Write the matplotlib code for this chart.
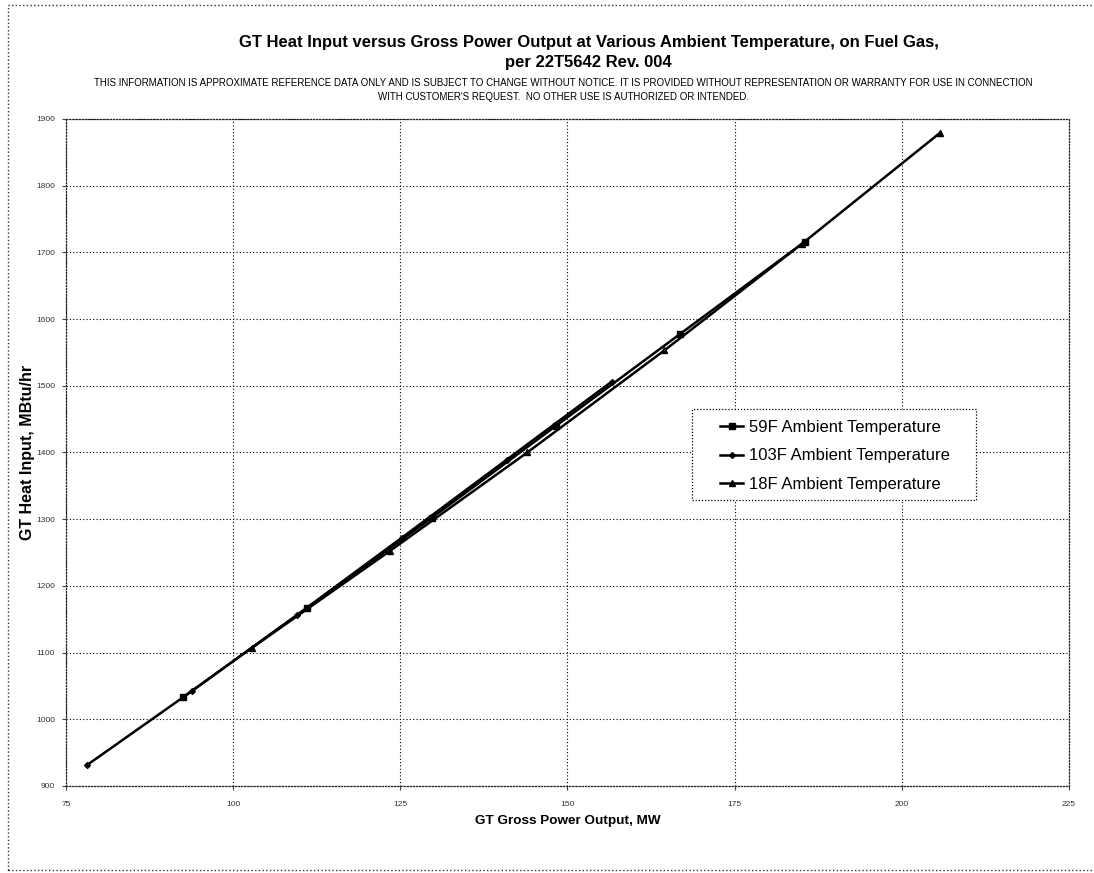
#!/usr/bin/env python3
"""GT heat input vs gross power output at three ambient temperatures."""

import matplotlib

matplotlib.use("Agg")
import matplotlib.pyplot as plt
from matplotlib.patches import Rectangle

plt.rcParams.update({
    "font.family": ["Liberation Sans", "DejaVu Sans"],
    "axes.linewidth": 0.9,
})

# Gross power output (MW) and heat input (MBtu/hr).
power_59f = [92.5, 111.1, 129.7, 148.3, 166.9, 185.5]
heat_59f = [1033, 1167, 1302, 1440, 1578, 1716]

power_103f = [78.1, 93.8, 109.5, 125.2, 140.9, 156.6]
heat_103f = [931, 1042, 1156, 1272, 1389, 1506]

power_18f = [102.8, 123.4, 144.0, 164.5, 185.1, 205.7]
heat_18f = [1107, 1252, 1400, 1553, 1713, 1879]

x_ticks = [75, 100, 125, 150, 175, 200, 225]
y_ticks = [900, 1000, 1100, 1200, 1300, 1400, 1500, 1600, 1700, 1800, 1900]

TITLE = ("GT Heat Input versus Gross Power Output at Various Ambient Temperature, on Fuel Gas,\n"
         "per 22T5642 Rev. 004")
DISCLAIMER = ("THIS INFORMATION IS APPROXIMATE REFERENCE DATA ONLY AND IS SUBJECT TO CHANGE WITHOUT NOTICE. "
              "IT IS PROVIDED WITHOUT REPRESENTATION OR WARRANTY FOR USE IN CONNECTION\n"
              "WITH CUSTOMER'S REQUEST.  NO OTHER USE IS AUTHORIZED OR INTENDED.")


def main() -> None:
    fig = plt.figure(figsize=(10.94, 8.73), dpi=100)
    ax = fig.add_axes([0.0603, 0.0997, 0.9167, 0.764])

    # dotted outer frame of the sheet
    fig.patches.append(Rectangle((0.007, 0.004), 1.0, 0.99, transform=fig.transFigure,
                                 fill=False, edgecolor="#333333", linestyle=":", linewidth=1.0))

    series = [
        ("59F Ambient Temperature", power_59f, heat_59f, "s", 5),
        ("103F Ambient Temperature", power_103f, heat_103f, "D", 3),
        ("18F Ambient Temperature", power_18f, heat_18f, "^", 5),
    ]
    for label, xs, ys, marker, ms in series:
        ax.plot(xs, ys, color="black", linewidth=1.8, marker=marker, markersize=ms,
                markerfacecolor="black", markeredgecolor="black", label=label)

    ax.set_xlim(75, 225)
    ax.set_ylim(900, 1900)
    ax.set_xticks(x_ticks)
    ax.set_yticks(y_ticks)
    ax.tick_params(labelsize=6, length=3, color="#444444", labelcolor="#333333")
    ax.tick_params(axis="x", pad=8)
    ax.tick_params(axis="y", pad=5)
    ax.grid(True, color="black", linestyle=(0, (1, 2)), linewidth=0.8)
    for spine in ax.spines.values():
        spine.set_linestyle((0, (1, 1.5)))
        spine.set_color("#222222")

    ax.set_xlabel("GT Gross Power Output, MW", fontsize=9.7, fontweight="bold", labelpad=5)
    ax.set_ylabel("GT Heat Input, MBtu/hr", fontsize=11.5, fontweight="bold")
    ax.yaxis.set_label_coords(-0.031, 0.5)

    fig.text(0.538, 0.94, TITLE, ha="center", va="center", fontsize=12,
             fontweight="bold", linespacing=1.4)
    fig.text(0.515, 0.897, DISCLAIMER, ha="center", va="center", fontsize=7.0,
             linespacing=1.5)

    leg = ax.legend(loc="upper left", bbox_to_anchor=(0.644, 0.561), fontsize=12,
                    frameon=False, borderpad=0, handlelength=1.4,
                    labelspacing=0.8, handletextpad=0.35)
    leg.set_zorder(5)
    ax.add_patch(Rectangle((0.624, 0.429), 0.283, 0.136, transform=ax.transAxes,
                           facecolor="white", edgecolor="black", linestyle=(0, (1, 1.5)),
                           linewidth=0.9, zorder=4))

    fig.savefig("out.png", dpi=100)
    plt.close(fig)


if __name__ == "__main__":
    main()
